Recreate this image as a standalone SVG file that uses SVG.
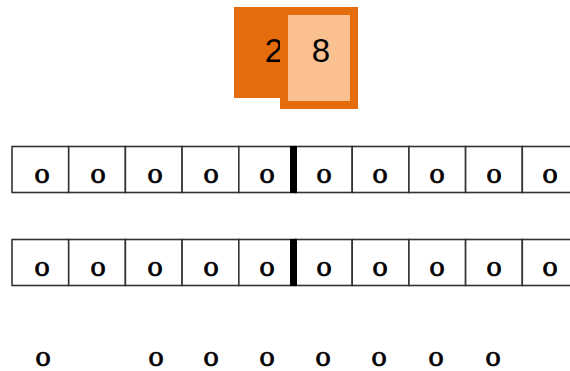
<svg xmlns="http://www.w3.org/2000/svg" width="570" height="371" viewBox="0 0 570 371">
<style>
.cell{fill:#fff;stroke:#333;stroke-width:1.6}
.o{font-family:"DejaVu Serif","Liberation Serif",serif;font-size:26px;text-anchor:middle;fill:#000;stroke:#000;stroke-width:0.7}
.d{font-family:"Liberation Sans",Arial,sans-serif;font-size:33px;text-anchor:middle;fill:#000}
.bar{fill:#000}
</style>
<rect width="570" height="371" fill="#fff"/>
<g id="card-2">
<rect x="234" y="7" width="58" height="91" fill="#E46C0A"/>
<text class="d" x="274" y="62">2</text>
</g>
<g id="card-8">
<rect x="284" y="11" width="70" height="94" fill="#FAC090" stroke="#E46C0A" stroke-width="8"/>
<text class="d" x="321" y="62">8</text>
</g>
<g id="row1">
<rect class="cell" x="12" y="146.5" width="56.7" height="46"/>
<rect class="cell" x="68.7" y="146.5" width="56.7" height="46"/>
<rect class="cell" x="125.4" y="146.5" width="56.7" height="46"/>
<rect class="cell" x="182.1" y="146.5" width="56.7" height="46"/>
<rect class="cell" x="238.8" y="146.5" width="56.7" height="46"/>
<rect class="cell" x="295.5" y="146.5" width="56.7" height="46"/>
<rect class="cell" x="352.2" y="146.5" width="56.7" height="46"/>
<rect class="cell" x="408.9" y="146.5" width="56.7" height="46"/>
<rect class="cell" x="465.6" y="146.5" width="56.7" height="46"/>
<rect class="cell" x="522.3" y="146.5" width="56.7" height="46"/>
<rect class="bar" x="290" y="146" width="7" height="47"/>
<text class="o" x="42" y="183">o</text>
<text class="o" x="98" y="183">o</text>
<text class="o" x="155" y="183">o</text>
<text class="o" x="211" y="183">o</text>
<text class="o" x="267" y="183">o</text>
<text class="o" x="324" y="183">o</text>
<text class="o" x="380" y="183">o</text>
<text class="o" x="437" y="183">o</text>
<text class="o" x="494" y="183">o</text>
<text class="o" x="550" y="183">o</text>
</g>
<g id="row2">
<rect class="cell" x="12" y="239.5" width="56.7" height="46"/>
<rect class="cell" x="68.7" y="239.5" width="56.7" height="46"/>
<rect class="cell" x="125.4" y="239.5" width="56.7" height="46"/>
<rect class="cell" x="182.1" y="239.5" width="56.7" height="46"/>
<rect class="cell" x="238.8" y="239.5" width="56.7" height="46"/>
<rect class="cell" x="295.5" y="239.5" width="56.7" height="46"/>
<rect class="cell" x="352.2" y="239.5" width="56.7" height="46"/>
<rect class="cell" x="408.9" y="239.5" width="56.7" height="46"/>
<rect class="cell" x="465.6" y="239.5" width="56.7" height="46"/>
<rect class="cell" x="522.3" y="239.5" width="56.7" height="46"/>
<rect class="bar" x="290" y="239" width="7" height="47"/>
<text class="o" x="42" y="276">o</text>
<text class="o" x="98" y="276">o</text>
<text class="o" x="155" y="276">o</text>
<text class="o" x="211" y="276">o</text>
<text class="o" x="267" y="276">o</text>
<text class="o" x="324" y="276">o</text>
<text class="o" x="380" y="276">o</text>
<text class="o" x="437" y="276">o</text>
<text class="o" x="494" y="276">o</text>
<text class="o" x="550" y="276">o</text>
</g>
<g id="row3">
<text class="o" x="43" y="366">o</text>
<text class="o" x="156" y="366">o</text>
<text class="o" x="211" y="366">o</text>
<text class="o" x="267" y="366">o</text>
<text class="o" x="323" y="366">o</text>
<text class="o" x="379" y="366">o</text>
<text class="o" x="436" y="366">o</text>
<text class="o" x="493" y="366">o</text>
</g>
</svg>
